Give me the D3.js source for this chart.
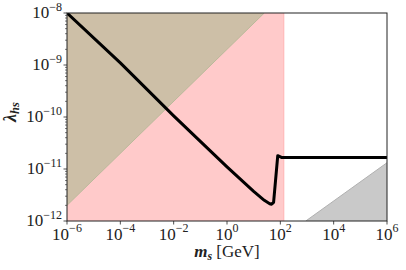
<!DOCTYPE html>
<html><head><meta charset="utf-8">
<script src="https://cdn.jsdelivr.net/npm/d3@7"></script>
<style>body{margin:0;background:#fff}svg{display:block}</style>
</head><body>
<script>
// data
const lineMass   = [1e-6, 1e-4, 1e-2, 1, 10, 25, 40, 47, 52, 56, 80, 110, 1e6];
const lineLambda = [1e-8, 1.1e-9, 1.05e-10, 1.1e-11, 3.7e-12, 2.5e-12, 2.15e-12, 2.1e-12, 2.2e-12, 2.3e-12, 1.8e-11, 1.67e-11, 1.67e-11];
const brownMass   = [1e-6, 25];
const brownLambda = [2.0e-12, 1e-8];
const pinkMassMax = 135;
const grayMass   = [9e2, 1e6];
const grayLambda = [1e-12, 1.32e-11];
const xTicks = [-6, -4, -2, 0, 2, 4, 6];
const yTicks = [-12, -11, -10, -9, -8];

const W = 406, H = 270;
const m = {l: 67, r: 387, t: 13, b: 221};
const svg = d3.select("body").append("svg").attr("width", W).attr("height", H);
const x = d3.scaleLog().domain([1e-6, 1e6]).range([m.l, m.r]);
const y = d3.scaleLog().domain([1e-12, 1e-8]).range([m.b, m.t]);

svg.append("defs").append("clipPath").attr("id", "clip")
  .append("rect").attr("x", m.l).attr("y", m.t).attr("width", m.r - m.l).attr("height", m.b - m.t);
const g = svg.append("g").attr("clip-path", "url(#clip)");

// pink region
g.append("rect").attr("x", x(1e-6)).attr("y", m.t)
  .attr("width", x(pinkMassMax) - x(1e-6)).attr("height", m.b - m.t)
  .attr("fill", "#ffcaca");
g.append("line").attr("x1", x(pinkMassMax)).attr("x2", x(pinkMassMax))
  .attr("y1", m.t).attr("y2", m.b).attr("stroke", "#ffb4b4").attr("stroke-width", 1);

// brown region (above the line)
const bPts = brownMass.map((d, i) => [d, brownLambda[i]]);
const brownArea = d3.area().x(d => x(d[0])).y0(m.t).y1(d => y(d[1]));
g.append("path").datum(bPts).attr("d", brownArea).attr("fill", "#cdbfa7");
g.append("path").datum(bPts).attr("d", d3.line().x(d => x(d[0])).y(d => y(d[1])))
  .attr("fill", "none").attr("stroke", "#b9b99a").attr("stroke-width", 1);

// gray region (below)
const gPts = grayMass.map((d, i) => [d, grayLambda[i]]);
const grayArea = d3.area().x(d => x(d[0])).y0(m.b).y1(d => y(d[1]));
g.append("path").datum(gPts).attr("d", grayArea).attr("fill", "#c9c9c9");
g.append("path").datum(gPts).attr("d", d3.line().x(d => x(d[0])).y(d => y(d[1])))
  .attr("fill", "none").attr("stroke", "#b0b0b0").attr("stroke-width", 1);

// black line
const lPts = lineMass.map((d, i) => [d, lineLambda[i]]);
g.append("path").datum(lPts)
  .attr("d", d3.line().x(d => x(d[0])).y(d => y(d[1])))
  .attr("fill", "none").attr("stroke", "#000").attr("stroke-width", 3)
  .attr("stroke-linejoin", "round").attr("stroke-linecap", "butt");

// frame
svg.append("rect").attr("x", m.l).attr("y", m.t).attr("width", m.r - m.l).attr("height", m.b - m.t)
  .attr("fill", "none").attr("stroke", "#222").attr("stroke-width", 1);

const font = "'Liberation Serif', 'DejaVu Serif', serif";

// x ticks
const xa = svg.append("g");
xTicks.forEach(e => {
  const px = x(Math.pow(10, e));
  xa.append("line").attr("x1", px).attr("x2", px).attr("y1", m.b).attr("y2", m.b + 3.5)
    .attr("stroke", "#222").attr("stroke-width", 0.8);
  const t = xa.append("text").attr("x", px).attr("y", 239.5).attr("text-anchor", "middle")
    .attr("font-family", font).attr("font-size", 17).attr("fill", "#222");
  t.append("tspan").text("10");
  t.append("tspan").attr("dy", -7.5).attr("font-size", 12).text(e < 0 ? "\u2212" + (-e) : String(e));
});

// y ticks (major + minor)
const ya = svg.append("g");
yTicks.forEach(e => {
  const py = y(Math.pow(10, e));
  ya.append("line").attr("x1", m.l - 3.5).attr("x2", m.l).attr("y1", py).attr("y2", py)
    .attr("stroke", "#222").attr("stroke-width", 0.8);
  const t = ya.append("text").attr("x", 62).attr("y", py + 5).attr("text-anchor", "end")
    .attr("font-family", font).attr("font-size", 17).attr("fill", "#222");
  t.append("tspan").text("10");
  t.append("tspan").attr("dy", -7).attr("font-size", 12).text("\u2212" + (-e));
  if (e < -8) {
    for (let k = 2; k <= 9; k++) {
      const pm = y(k * Math.pow(10, e));
      ya.append("line").attr("x1", m.l - 2).attr("x2", m.l).attr("y1", pm).attr("y2", pm)
        .attr("stroke", "#222").attr("stroke-width", 0.6);
    }
  }
});

// axis labels
const xl = svg.append("text").attr("x", (m.l + m.r) / 2).attr("y", 257).attr("text-anchor", "middle")
  .attr("font-family", font).attr("font-size", 17).attr("fill", "#222");
xl.append("tspan").attr("font-weight", "bold").attr("font-style", "italic").text("m");
xl.append("tspan").attr("font-weight", "bold").attr("font-style", "italic").attr("font-size", 12).attr("dy", 3).text("s");
xl.append("tspan").attr("dy", -3).text(" [GeV]");

const yl = svg.append("text").attr("transform", "translate(16,112) rotate(-90)").attr("text-anchor", "middle")
  .attr("font-family", font).attr("font-size", 18).attr("fill", "#222");
yl.append("tspan").attr("font-weight", "bold").attr("font-style", "italic").text("\u03bb");
yl.append("tspan").attr("font-weight", "bold").attr("font-style", "italic").attr("font-size", 12.5).attr("dy", 3).text("hs");
</script>
</body></html>
